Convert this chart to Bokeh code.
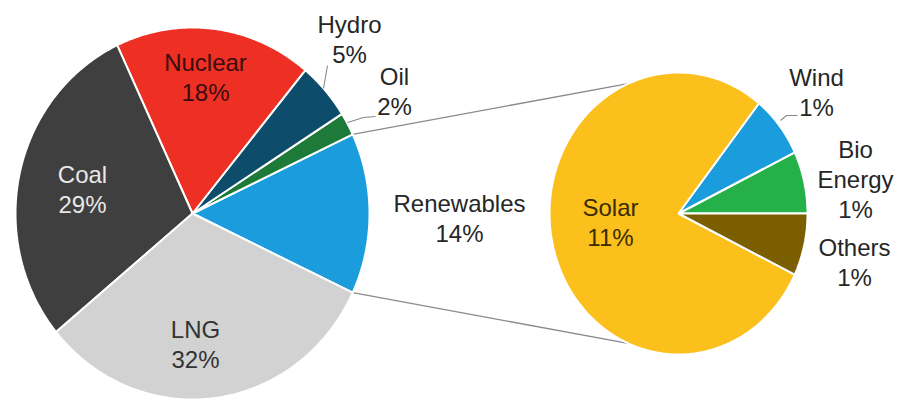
import numpy as np
from bokeh.plotting import figure
from bokeh.models import Range1d
from bokeh.embed import file_html
from bokeh.resources import INLINE
from bokeh.core.properties import value

# ---------------- data ----------------
main_labels = ["Renewables", "Oil", "Hydro", "Nuclear", "Coal", "LNG"]
main_values = [14, 2, 5, 18, 29, 32]
main_colors = ["#1b9ddd", "#1d7a38", "#0d4d6b", "#ee2f24", "#3f3f3f", "#d2d2d2"]

sub_labels = ["Bio Energy", "Wind", "Solar", "Others"]
sub_values = [1, 1, 11, 1]
sub_colors = ["#25b04a", "#1b9ddd", "#fbc01c", "#7a5e00"]

# ---------------- layout ----------------
W, H = 902, 403
LEFT = dict(cx=192, cy=213, rx=177, ry=186)
RIGHT = dict(cx=678, cy=213, rx=129, ry=141)
FONT = "Liberation Sans"
FSIZE = "24px"
GAP = 30

# label block centres and text colours (layout only)
main_label_pos = {
    "Renewables": (459, 218, "#262626"),
    "Oil": (394, 91, "#262626"),
    "Hydro": (349, 39, "#262626"),
    "Nuclear": (205, 77, "#3a0c0c"),
    "Coal": (82, 189, "#e8e8e8"),
    "LNG": (195, 344, "#333333"),
}
sub_label_pos = {
    "Bio Energy": (855, 179, "#262626"),
    "Wind": (816, 92, "#262626"),
    "Solar": (610, 222, "#3a2c00"),
    "Others": (854, 262, "#262626"),
}
label_lines = {"Bio Energy": ["Bio", "Energy"]}


def wedges(values, start_deg, geo, n=120):
    total = float(sum(values))
    xs, ys, spans = [], [], []
    a = start_deg
    for v in values:
        span = 360.0 * v / total
        t = np.radians(np.linspace(a, a + span, n))
        x = np.concatenate([[geo["cx"]], geo["cx"] + geo["rx"] * np.cos(t)])
        y = np.concatenate([[geo["cy"]], geo["cy"] - geo["ry"] * np.sin(t)])
        xs.append(list(x))
        ys.append(list(y))
        spans.append((a, a + span))
        a += span
    return xs, ys, spans


def pt(geo, deg):
    r = np.radians(deg)
    return geo["cx"] + geo["rx"] * np.cos(r), geo["cy"] - geo["ry"] * np.sin(r)


p = figure(width=W, height=H, output_backend="svg", toolbar_location=None,
           x_range=Range1d(0, W), y_range=Range1d(H, 0), min_border=0)
p.axis.visible = False
p.grid.visible = False
p.outline_line_color = None
p.background_fill_color = "white"
p.border_fill_color = "white"

main_total = sum(main_values)
half = 360.0 * main_values[0] / main_total / 2.0
mxs, mys, mspans = wedges(main_values, -half, LEFT)
sxs, sys_, sspans = wedges(sub_values, 0.0, RIGHT)

# connector lines (drawn first, so pies cover them)
conn_angle = 113.0
for sgn in (1, -1):
    x0, y0 = pt(LEFT, sgn * half)
    x1, y1 = pt(RIGHT, sgn * conn_angle)
    p.line([x0, x1], [y0, y1], line_color="#8a8a8a", line_width=1.3)

p.patches(mxs, mys, fill_color=main_colors, line_color="white", line_width=2)
p.patches(sxs, sys_, fill_color=sub_colors, line_color="white", line_width=2)

# leader lines
leaders = [
    ([327, 323], [65, 88]),
    ([347, 363, 375], [122, 117, 116]),
    ([780, 786, 797], [120, 115, 115]),
]
for lx, ly in leaders:
    p.line(lx, ly, line_color="#8a8a8a", line_width=1.1)


def draw_labels(labels, values, pos):
    for lab, v in zip(labels, values):
        cx, cy, col = pos[lab]
        lines = label_lines.get(lab, [lab]) + ["%d%%" % v]
        n = len(lines)
        ys = [cy + (i - (n - 1) / 2.0) * GAP for i in range(n)]
        p.text(x=[cx] * n, y=ys, text=lines, text_align="center",
               text_baseline="middle", text_font=value(FONT),
               text_font_size=FSIZE, text_color=col)


draw_labels(main_labels, main_values, main_label_pos)
draw_labels(sub_labels, sub_values, sub_label_pos)

open("out.html", "w").write(file_html(p, INLINE))
